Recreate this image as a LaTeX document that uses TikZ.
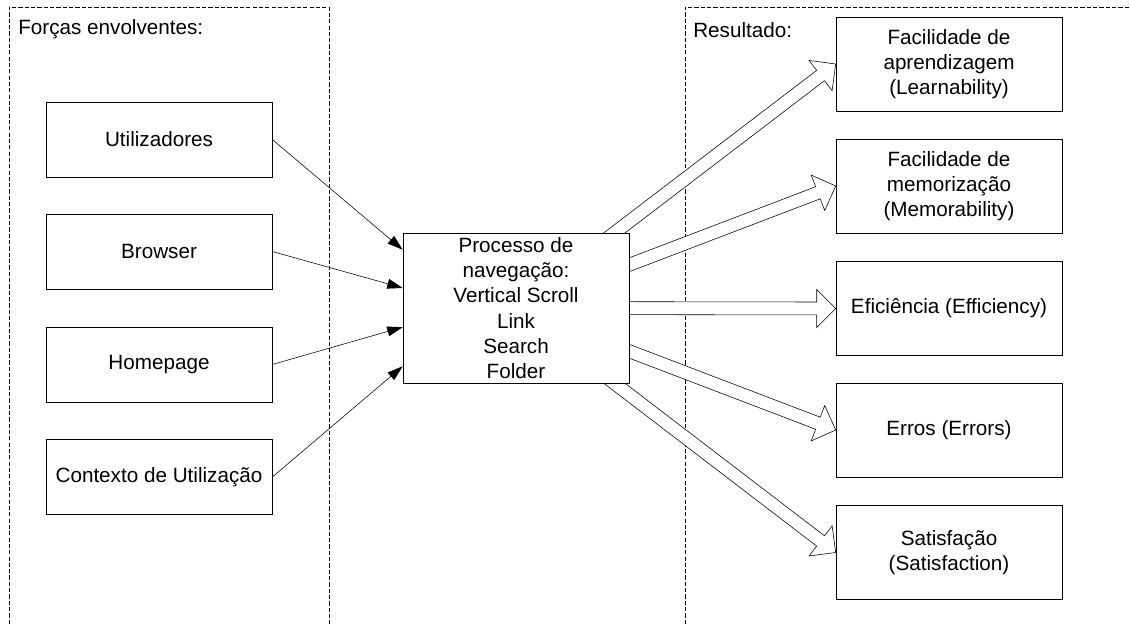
\documentclass[tikz,border=0pt]{standalone}
\usepackage{fontspec}
\setmainfont{Liberation Sans}
\usetikzlibrary{arrows.meta,calc}

\pgfdeclarelayer{back}
\pgfdeclarelayer{mid}
\pgfsetlayers{back,mid,main}

% hollow block arrow from the centre of #1 to #2
\newcommand{\fatarrow}[2]{%
  \draw[fill=white] let \p1=(#1), \p2=(#2),
      \n1={atan2(\y2-\y1,\x2-\x1)}, \n2={veclen(\x2-\x1,\y2-\y1)} in
    [shift={(\p1)}, rotate=\n1]
    (0pt,4.6pt) -- (\n2-13.5pt,4.6pt) -- (\n2-13.5pt,13.5pt) -- (\n2,0pt)
    -- (\n2-13.5pt,-13.5pt) -- (\n2-13.5pt,-4.6pt) -- (0pt,-4.6pt) -- cycle;}

\begin{document}
\begin{tikzpicture}[x=0.025cm, y=-0.025cm, line width=0.6pt,
    box/.style={draw, fill=white, minimum width=5.65cm, align=center, inner sep=2pt,
                font=\fontsize{14.7}{18}\selectfont},
    force/.style={box, minimum height=1.875cm},
    result/.style={box, minimum height=2.35cm},
    frame/.style={dashed, dash pattern=on 3pt off 1.5pt, line width=0.5pt},
    title/.style={anchor=west, inner sep=0pt, font=\fontsize{14.7}{18}\selectfont},
    thin/.style={-{Triangle[length=11pt, width=7pt]}}]
\useasboundingbox (0,0) rectangle (1130,624);

% frames
\begin{pgfonlayer}{back}
\draw[frame] (9,624) -- (9,7) -- (329,7) -- (329,624);
\draw[frame] (685,624) -- (685,7) -- (1130,7);
\end{pgfonlayer}
\node[title] (forcas) at (18,29) {Forças envolventes:};
\node[title] (resultado) at (693,30) {Resultado:};

% forces
\node[force] (util) at (159,139.5) {Utilizadores};
\node[force] (browser) at (159,251.5) {Browser};
\node[force] (home) at (159,364.5) {Homepage};
\node[force] (contexto) at (159,477) {Contexto de Utilização};

% process
\node[box, minimum height=3.75cm] (proc) at (516,308) {Processo de\\navegação:\\Vertical Scroll\\Link\\Search\\Folder};

% results
\node[result] (learn) at (949,64) {Facilidade de\\aprendizagem\\(Learnability)};
\node[result] (memo) at (949,186) {Facilidade de\\memorização\\(Memorability)};
\node[result] (efic) at (949,308.5) {Eficiência (Efficiency)};
\node[result] (erros) at (949,430) {Erros (Errors)};
\node[result] (satis) at (949,552.5) {Satisfação\\(Satisfaction)};

\draw[thin] (util.east) -- ($(proc.north west)!0.113!(proc.south west)$);
\draw[thin] (browser.east) -- ($(proc.north west)!0.367!(proc.south west)$);
\draw[thin] (home.east) -- ($(proc.north west)!0.627!(proc.south west)$);
\draw[thin] (contexto.east) -- ($(proc.north west)!0.887!(proc.south west)$);

\begin{pgfonlayer}{mid}
\fatarrow{proc.center}{learn.west}
\fatarrow{proc.center}{memo.west}
\fatarrow{proc.center}{efic.west}
\fatarrow{proc.center}{erros.west}
\fatarrow{proc.center}{satis.west}
\end{pgfonlayer}
\end{tikzpicture}
\end{document}
